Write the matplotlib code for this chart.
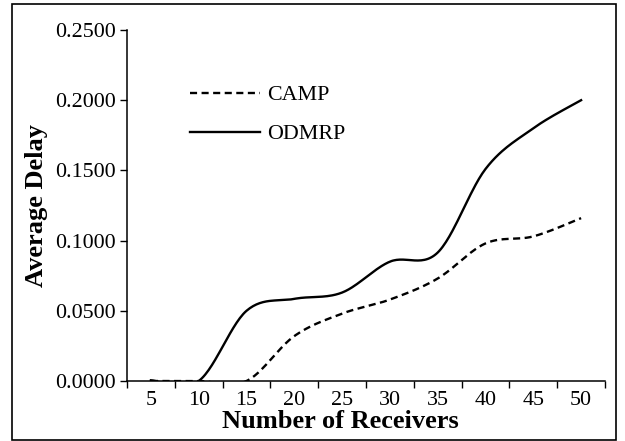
import numpy as np
import matplotlib
matplotlib.use('Agg')
import matplotlib.pyplot as plt
from matplotlib.patches import Rectangle

## Average delay vs number of receivers

receivers = [5, 10, 15, 20, 25, 30, 35, 40, 45, 50]
camp = [0.0000, 0.0000, 0.0000, 0.0320, 0.0480, 0.0580, 0.0730, 0.0980, 0.1030, 0.1160]
odmrp = [0.0005, 0.0000, 0.0500, 0.0585, 0.0630, 0.0850, 0.0915, 0.1510, 0.1800, 0.2000]

plt.rcParams['font.family'] = ['Liberation Serif', 'DejaVu Serif']


def smooth(xs, ys, n=30):
    # excel-like smoothed line (catmull-rom as bezier)
    xs = np.asarray(xs, float)
    ys = np.asarray(ys, float)
    px = np.concatenate([[xs[0]], xs, [xs[-1]]])
    py = np.concatenate([[ys[0]], ys, [ys[-1]]])
    t = np.linspace(0, 1, n)
    ox, oy = [], []
    for i in range(1, len(px) - 2):
        p0 = np.array([px[i], py[i]])
        p3 = np.array([px[i + 1], py[i + 1]])
        c1 = p0 + (np.array([px[i + 1], py[i + 1]]) - np.array([px[i - 1], py[i - 1]])) / 6
        c2 = p3 - (np.array([px[i + 2], py[i + 2]]) - np.array([px[i], py[i]])) / 6
        b = ((1 - t) ** 3)[:, None] * p0 + (3 * (1 - t) ** 2 * t)[:, None] * c1 \
            + (3 * (1 - t) * t ** 2)[:, None] * c2 + (t ** 3)[:, None] * p3
        ox.extend(b[:, 0])
        oy.extend(b[:, 1])
    return ox, oy


idx = np.arange(len(receivers))

fig = plt.figure(figsize=(6.25, 4.41), dpi=100)
ax = fig.add_axes([127 / 625, 1 - 381 / 441, 478 / 625, 351 / 441])

sx, sy = smooth(idx, camp)
ax.plot(sx, sy, color='black', lw=1.7, ls=(0, (3.0, 1.9)), label='CAMP')
sx, sy = smooth(idx, odmrp)
ax.plot(sx, sy, color='black', lw=1.7, label='ODMRP')

ax.set_xlim(-0.5, len(receivers) - 0.5)
ax.set_ylim(0, 0.25)
ax.set_yticks(np.arange(0, 0.2501, 0.05))
ax.set_yticklabels(['%.4f' % v for v in np.arange(0, 0.2501, 0.05)])
ax.set_xticks(idx)
ax.set_xticklabels([str(r) for r in receivers])
ax.set_xticks(np.arange(-0.5, len(receivers)), minor=True)
ax.tick_params(axis='x', which='major', length=0, labelsize=15.8, pad=7)
ax.tick_params(axis='x', which='minor', length=5, width=1, direction='out')
ax.tick_params(axis='y', length=5, width=1, labelsize=15.8, pad=3)

for s in ['top', 'right']:
    ax.spines[s].set_visible(False)
for s in ['left', 'bottom']:
    ax.spines[s].set_linewidth(1.1)

ax.set_ylabel('Average Delay', fontsize=19, fontweight='bold', labelpad=5)
fig.text(340 / 625, 1 - 422 / 441, 'Number of Receivers', fontsize=19,
         fontweight='bold', ha='center', va='center')

ax.legend(loc='upper left', bbox_to_anchor=(190 / 625, 1 - 85 / 441),
          bbox_transform=fig.transFigure, frameon=False, fontsize=15.8,
          handlelength=3.2, handletextpad=0.3, borderpad=0, borderaxespad=0,
          labelspacing=0.85)

fig.patches.append(Rectangle((12 / 625, 1 / 441), 604 / 625, 436 / 441,
                             transform=fig.transFigure, fill=False,
                             edgecolor='black', lw=1.2))

fig.savefig('out.png', dpi=100)
